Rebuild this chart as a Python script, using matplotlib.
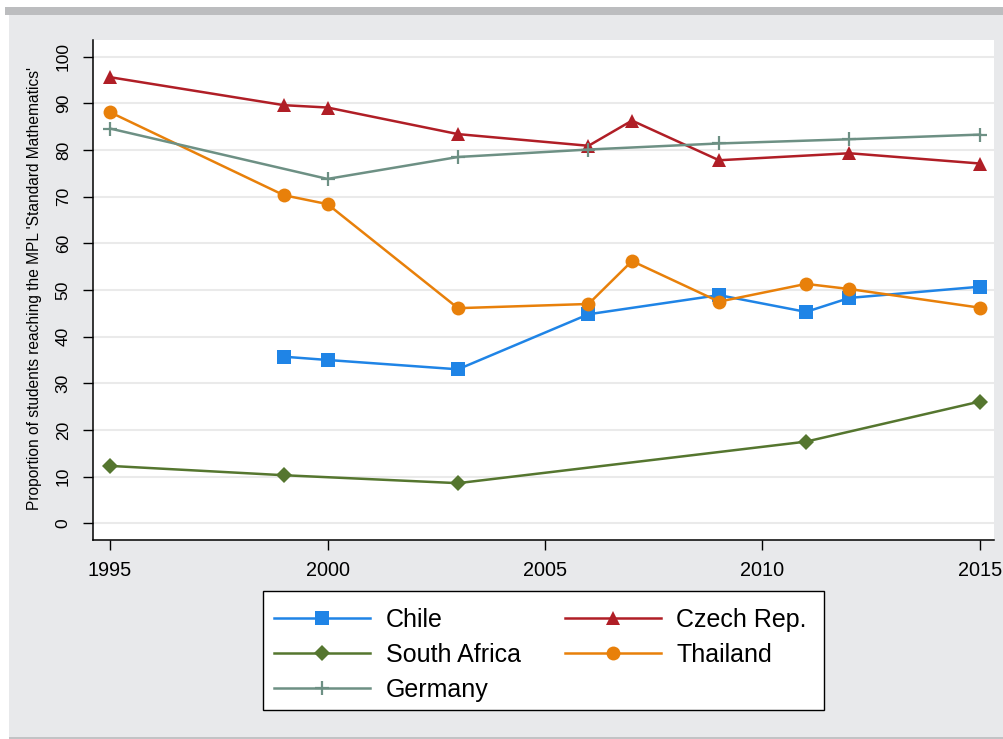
import matplotlib
matplotlib.use("Agg")
import matplotlib.pyplot as plt
from matplotlib.patches import Rectangle

plt.rcParams['font.family'] = ['Liberation Sans', 'DejaVu Sans']

# ---- data ----
chile_years = [1999, 2000, 2003, 2006, 2009, 2011, 2012, 2015]
chile_vals = [35.7, 35.0, 33.0, 44.8, 48.9, 45.3, 48.3, 50.7]

czech_years = [1995, 1999, 2000, 2003, 2006, 2007, 2009, 2012, 2015]
czech_vals = [95.6, 89.6, 89.1, 83.4, 80.9, 86.3, 77.8, 79.3, 77.1]

safrica_years = [1995, 1999, 2003, 2011, 2015]
safrica_vals = [12.3, 10.3, 8.6, 17.5, 26.1]

thai_years = [1995, 1999, 2000, 2003, 2006, 2007, 2009, 2011, 2012, 2015]
thai_vals = [88.1, 70.3, 68.4, 46.1, 47.0, 56.2, 47.5, 51.3, 50.2, 46.2]

germany_years = [1995, 2000, 2003, 2006, 2009, 2012, 2015]
germany_vals = [84.6, 73.8, 78.5, 80.1, 81.4, 82.3, 83.3]

x_ticks = [1995, 2000, 2005, 2010, 2015]
y_ticks = [0, 10, 20, 30, 40, 50, 60, 70, 80, 90, 100]
y_label = "Proportion of students reaching the MPL 'Standard Mathematics'"

W, H = 1004, 739
fig = plt.figure(figsize=(W / 100, H / 100), dpi=100)
fig.patch.set_facecolor('#E8E9EB')

# decorative frame pieces
fig.add_artist(Rectangle((0, 0), 9 / W, 1, transform=fig.transFigure, facecolor='white', edgecolor='none', zorder=0))
fig.add_artist(Rectangle((0, 1 - 7 / H), 1, 7 / H, transform=fig.transFigure, facecolor='white', edgecolor='none', zorder=0))
fig.add_artist(Rectangle((5 / W, 1 - 15 / H), 1, 8 / H, transform=fig.transFigure, facecolor='#BCBDBF', edgecolor='none', zorder=0))
fig.add_artist(Rectangle((9 / W, 0), 1, 2.5 / H, transform=fig.transFigure, facecolor='#C2C3C5', edgecolor='none', zorder=0))

left, right, top, bottom = 93, 994, 40, 540
ax = fig.add_axes([left / W, 1 - bottom / H, (right - left) / W, (bottom - top) / H])
ax.set_facecolor('white')

lw = 1.8
series = [
    ("Chile", chile_years, chile_vals, '#1F84E6', 's', 9.5),
    ("Czech Rep.", czech_years, czech_vals, '#B01E26', '^', 10.5),
    ("South Africa", safrica_years, safrica_vals, '#55762F', 'D', 8.5),
    ("Thailand", thai_years, thai_vals, '#E8800A', 'o', 10),
    ("Germany", germany_years, germany_vals, '#6D9084', '+', 10),
]
handles = {}
for name, xs, ys, c, m, ms in series:
    mew = 1.6 if m == '+' else 0
    (h,) = ax.plot(xs, ys, color=c, lw=lw, marker=m, markersize=ms,
                   markeredgewidth=mew, markeredgecolor=c, label=name, zorder=3)
    handles[name] = h

ax.set_xlim(1994.609, 2015.322)
ax.set_ylim(-3.58, 103.57)
ax.set_xticks(x_ticks)
ax.set_yticks(y_ticks)
ax.set_xticklabels([str(v) for v in x_ticks], fontsize=14.3)
ax.set_yticklabels([str(v) for v in y_ticks], fontsize=12.5, rotation=90, va='center')
ax.tick_params(axis='x', length=7, width=1, pad=8, colors='black')
ax.tick_params(axis='y', length=7, width=1, pad=9, colors='black')
ax.yaxis.grid(True, color='#EAEAEA', lw=1.5, zorder=0)
ax.set_axisbelow(True)
for s in ['top', 'right']:
    ax.spines[s].set_visible(False)
for s in ['left', 'bottom']:
    ax.spines[s].set_color('black')
    ax.spines[s].set_linewidth(1.1)

fig.text(35 / W, 1 - 289 / H, y_label, fontsize=11.2, rotation=90, ha='center', va='center')

# legend frame drawn explicitly
fig.add_artist(Rectangle((263 / W, 1 - 710 / H), (824 - 263) / W, (710 - 591) / H,
                         transform=fig.transFigure, facecolor='white',
                         edgecolor='black', lw=1.0, zorder=4))

order = ["Chile", "South Africa", "Germany", "Czech Rep.", "Thailand"]
leg = fig.legend([handles[n] for n in order], order, ncol=2,
                 loc='upper left', bbox_to_anchor=(274 / W, 1 - 608 / H),
                 fontsize=18, frameon=False, handlelength=3.85,
                 handletextpad=0.62, labelspacing=0.44, columnspacing=1.75,
                 borderpad=0, borderaxespad=0)
leg.set_zorder(5)

fig.savefig('out.png', dpi=100, facecolor=fig.get_facecolor())
